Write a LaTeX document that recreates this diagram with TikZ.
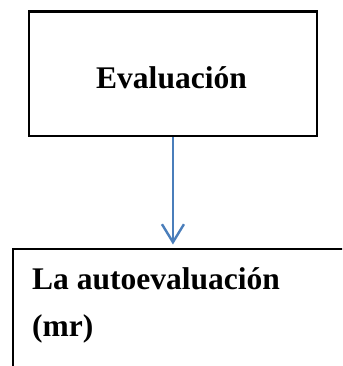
\documentclass[tikz,border=0pt]{standalone}
\usepackage{fontspec}
\setmainfont{Liberation Serif}
\usetikzlibrary{arrows.meta}
\definecolor{linkblue}{RGB}{74,126,187}
\tikzset{
  boxshape/.style={draw=black, line width=2.4pt, rectangle, inner sep=0pt},
  boxtext/.style={inner sep=0pt, font=\fontsize{31.5}{40}\selectfont\bfseries},
  linkarrow/.style={draw=linkblue, line width=2.4pt, -{Straight Barb[length=18pt, width=22pt, line width=2.4pt]}}
}
\begin{document}
\begin{tikzpicture}[x=1pt, y=1pt]
  \useasboundingbox (0,0) rectangle (342,-366);
  \clip (0,0) rectangle (342,-366);
  \fill[white] (0,0) rectangle (342,-366);
  % top box
  \node[boxshape, minimum width=287.5pt, minimum height=124.5pt, anchor=north west] (eval) at (28,-10.5) {};
  \node[boxtext, anchor=base] (evaltext) at (171.5,-88.3) {Evaluación};
  % bottom box (runs past the picture edge)
  \node[boxshape, minimum width=360pt, minimum height=140pt, anchor=north west] (auto) at (12,-247.5) {};
  \node[boxtext, anchor=base west] (autoA) at (32,-289) {La autoevaluación};
  \node[boxtext, anchor=base west] (autoB) at (32,-336.7) {(mr)};
  % connector
  \draw[linkarrow, shorten >=3pt] (eval.south) -- (eval.south |- auto.north);
\end{tikzpicture}
\end{document}
